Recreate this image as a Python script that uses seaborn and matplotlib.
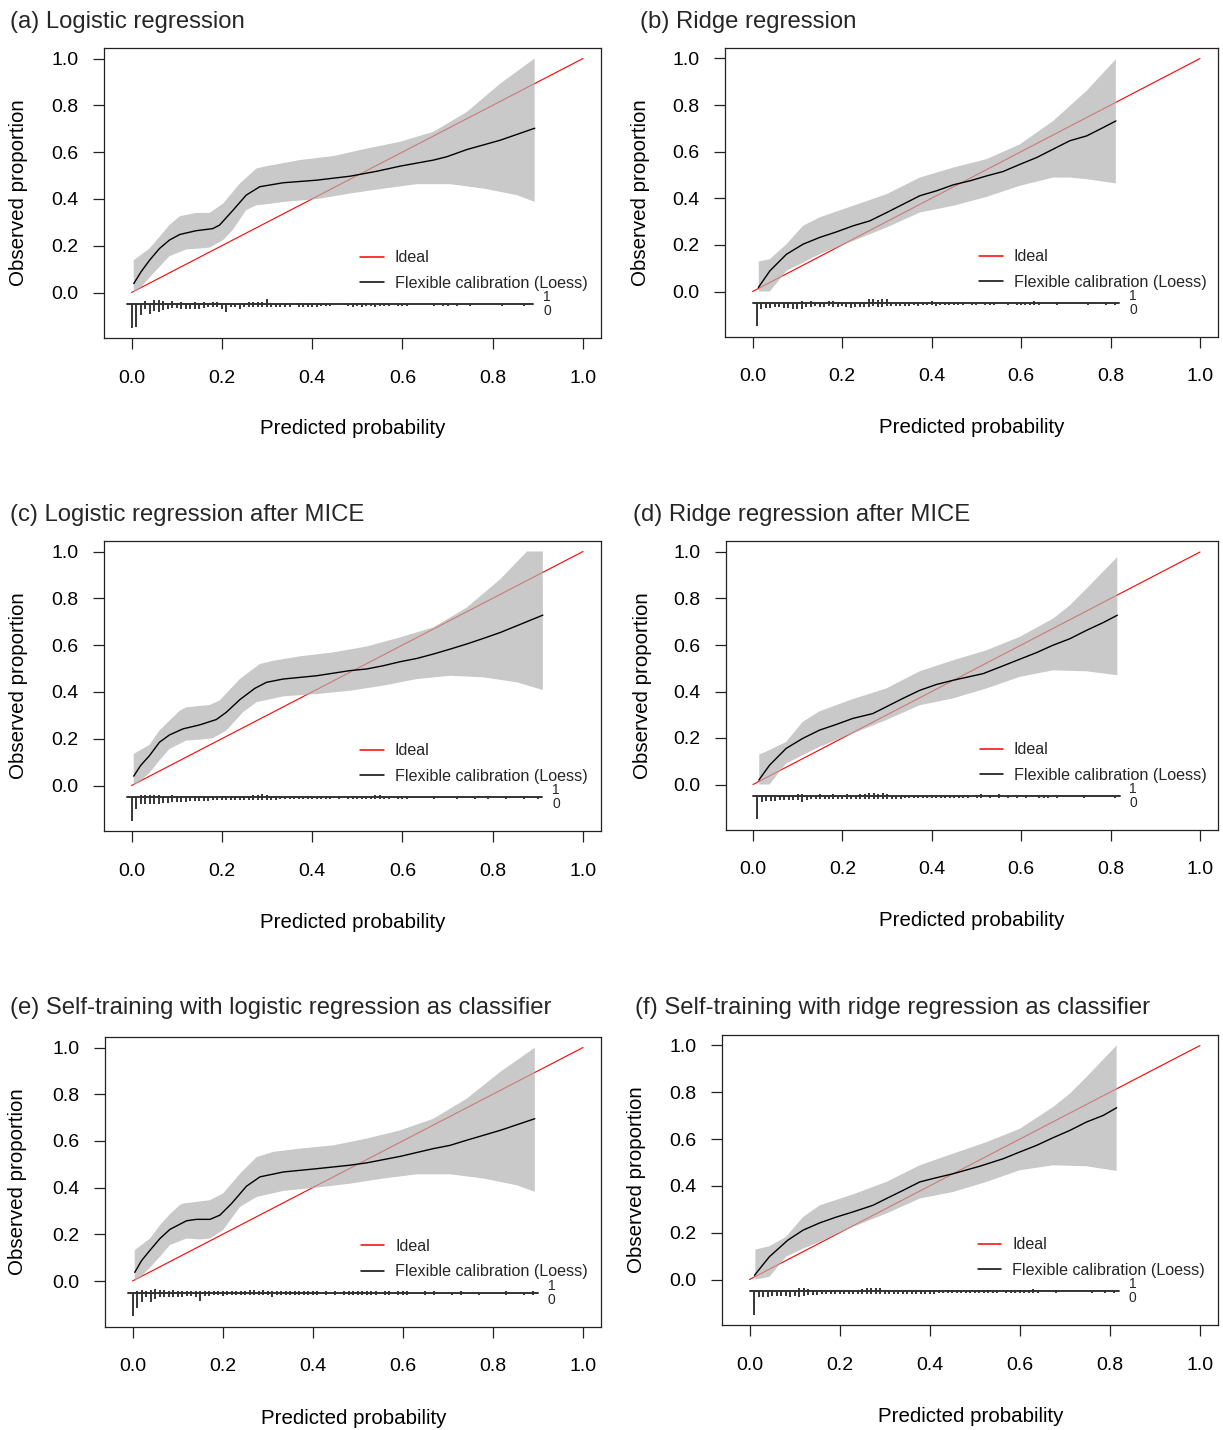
import numpy as np
import matplotlib
matplotlib.use("Agg")
import matplotlib.pyplot as plt
import seaborn as sns
from matplotlib.lines import Line2D

sns.set_theme(style="ticks")
plt.rcParams["font.family"] = ["Liberation Sans", "DejaVu Sans"]

# ---------------------------------------------------------------- data
titles = [
    "(a) Logistic regression",
    "(b) Ridge regression",
    "(c) Logistic regression after MICE",
    "(d) Ridge regression after MICE",
    "(e) Self-training with logistic regression as classifier",
    "(f) Self-training with ridge regression as classifier",
]
tick_values = [0.0, 0.2, 0.4, 0.6, 0.8, 1.0]
tick_labels = ["0.0", "0.2", "0.4", "0.6", "0.8", "1.0"]

# (a) logistic regression: loess fit and confidence band
a_fit_x = [0.005, 0.021, 0.04, 0.062, 0.084, 0.107, 0.143, 0.18, 0.195, 0.225, 0.254, 0.284, 0.336, 0.41, 0.484, 0.543, 0.595, 0.669, 0.698, 0.743, 0.817, 0.893]
a_fit_y = [0.038, 0.088, 0.138, 0.188, 0.224, 0.248, 0.264, 0.273, 0.288, 0.352, 0.416, 0.452, 0.469, 0.48, 0.497, 0.518, 0.54, 0.566, 0.58, 0.611, 0.651, 0.702]
a_hi_x = [0.005, 0.04, 0.062, 0.084, 0.107, 0.143, 0.173, 0.203, 0.24, 0.277, 0.299, 0.373, 0.447, 0.521, 0.595, 0.669, 0.743, 0.817, 0.893]
a_hi_y = [0.138, 0.188, 0.238, 0.288, 0.326, 0.34, 0.34, 0.38, 0.466, 0.53, 0.54, 0.566, 0.583, 0.615, 0.644, 0.687, 0.772, 0.893, 1.0]
a_lo_x = [0.005, 0.02, 0.04, 0.062, 0.084, 0.121, 0.151, 0.173, 0.203, 0.225, 0.254, 0.277, 0.299, 0.336, 0.41, 0.484, 0.558, 0.632, 0.706, 0.78, 0.854, 0.893]
a_lo_y = [0.0, 0.02, 0.064, 0.11, 0.155, 0.184, 0.188, 0.192, 0.224, 0.269, 0.352, 0.373, 0.377, 0.387, 0.399, 0.423, 0.444, 0.463, 0.463, 0.444, 0.416, 0.387]

# (b) ridge regression
b_fit_x = [0.013, 0.039, 0.076, 0.113, 0.15, 0.188, 0.225, 0.262, 0.3, 0.337, 0.374, 0.411, 0.449, 0.486, 0.523, 0.56, 0.598, 0.635, 0.672, 0.709, 0.747, 0.784, 0.812]
b_fit_y = [0.017, 0.089, 0.16, 0.203, 0.232, 0.256, 0.282, 0.303, 0.339, 0.375, 0.411, 0.432, 0.458, 0.475, 0.496, 0.515, 0.546, 0.575, 0.611, 0.647, 0.668, 0.704, 0.732]
b_hi_x = [0.014, 0.039, 0.076, 0.113, 0.15, 0.225, 0.3, 0.374, 0.449, 0.523, 0.598, 0.672, 0.747, 0.812]
b_hi_y = [0.129, 0.139, 0.203, 0.282, 0.318, 0.368, 0.418, 0.489, 0.532, 0.568, 0.632, 0.732, 0.862, 0.997]
b_lo_x = [0.014, 0.039, 0.076, 0.113, 0.15, 0.225, 0.3, 0.374, 0.449, 0.523, 0.598, 0.672, 0.709, 0.747, 0.812]
b_lo_y = [0.0, 0.0, 0.089, 0.124, 0.16, 0.217, 0.275, 0.339, 0.368, 0.406, 0.454, 0.489, 0.489, 0.482, 0.464]

# (c) logistic regression after MICE
c_fit_x = [0.005, 0.02, 0.04, 0.062, 0.084, 0.114, 0.151, 0.188, 0.21, 0.24, 0.273, 0.299, 0.336, 0.41, 0.484, 0.521, 0.558, 0.595, 0.632, 0.669, 0.706, 0.743, 0.78, 0.817, 0.854, 0.911]
c_fit_y = [0.04, 0.085, 0.128, 0.185, 0.216, 0.242, 0.259, 0.282, 0.313, 0.367, 0.415, 0.441, 0.455, 0.469, 0.491, 0.498, 0.512, 0.529, 0.543, 0.562, 0.583, 0.605, 0.629, 0.654, 0.683, 0.728]
c_hi_x = [0.005, 0.04, 0.062, 0.084, 0.107, 0.121, 0.173, 0.195, 0.24, 0.284, 0.314, 0.373, 0.447, 0.521, 0.595, 0.669, 0.743, 0.817, 0.876, 0.911]
c_hi_y = [0.135, 0.174, 0.235, 0.277, 0.32, 0.334, 0.344, 0.363, 0.455, 0.519, 0.533, 0.552, 0.569, 0.594, 0.633, 0.676, 0.761, 0.882, 1.0, 1.0]
c_lo_x = [0.005, 0.02, 0.04, 0.062, 0.084, 0.121, 0.151, 0.18, 0.21, 0.247, 0.277, 0.336, 0.41, 0.484, 0.558, 0.632, 0.706, 0.78, 0.854, 0.911]
c_lo_y = [0.0, 0.02, 0.054, 0.107, 0.156, 0.192, 0.196, 0.202, 0.235, 0.313, 0.356, 0.381, 0.391, 0.405, 0.427, 0.455, 0.469, 0.462, 0.441, 0.408]

# (d) ridge regression after MICE
d_fit_x = [0.013, 0.037, 0.074, 0.111, 0.149, 0.186, 0.223, 0.268, 0.298, 0.335, 0.373, 0.41, 0.447, 0.515, 0.559, 0.597, 0.634, 0.671, 0.709, 0.746, 0.783, 0.815]
d_fit_y = [0.019, 0.083, 0.155, 0.198, 0.234, 0.258, 0.284, 0.305, 0.334, 0.37, 0.405, 0.43, 0.448, 0.477, 0.51, 0.539, 0.567, 0.599, 0.627, 0.663, 0.696, 0.728]
d_hi_x = [0.014, 0.037, 0.074, 0.111, 0.149, 0.223, 0.298, 0.373, 0.447, 0.522, 0.597, 0.671, 0.709, 0.746, 0.815]
d_hi_y = [0.129, 0.148, 0.183, 0.269, 0.315, 0.367, 0.413, 0.487, 0.534, 0.577, 0.635, 0.713, 0.771, 0.842, 0.978]
d_lo_x = [0.014, 0.037, 0.074, 0.111, 0.149, 0.223, 0.298, 0.373, 0.447, 0.522, 0.597, 0.671, 0.746, 0.815]
d_lo_y = [0.0, 0.0, 0.09, 0.126, 0.162, 0.219, 0.277, 0.341, 0.37, 0.413, 0.463, 0.491, 0.487, 0.47]

# (e) self-training, logistic classifier
e_fit_x = [0.005, 0.02, 0.039, 0.061, 0.083, 0.12, 0.142, 0.172, 0.194, 0.22, 0.253, 0.283, 0.335, 0.409, 0.483, 0.52, 0.595, 0.668, 0.705, 0.742, 0.816, 0.893]
e_fit_y = [0.037, 0.087, 0.132, 0.182, 0.221, 0.258, 0.264, 0.264, 0.282, 0.332, 0.406, 0.446, 0.467, 0.481, 0.496, 0.506, 0.534, 0.567, 0.581, 0.603, 0.645, 0.695]
e_hi_x = [0.005, 0.039, 0.061, 0.083, 0.105, 0.113, 0.172, 0.201, 0.239, 0.276, 0.313, 0.372, 0.446, 0.52, 0.594, 0.668, 0.742, 0.816, 0.893]
e_hi_y = [0.132, 0.182, 0.239, 0.286, 0.325, 0.332, 0.346, 0.375, 0.46, 0.531, 0.553, 0.567, 0.581, 0.61, 0.645, 0.695, 0.781, 0.895, 0.999]
e_lo_x = [0.005, 0.02, 0.039, 0.061, 0.083, 0.12, 0.15, 0.172, 0.201, 0.239, 0.276, 0.335, 0.409, 0.483, 0.557, 0.631, 0.705, 0.779, 0.853, 0.893]
e_lo_y = [0.0, 0.02, 0.058, 0.104, 0.154, 0.182, 0.178, 0.182, 0.218, 0.318, 0.36, 0.386, 0.4, 0.417, 0.439, 0.457, 0.457, 0.439, 0.41, 0.382]

# (f) self-training, ridge classifier
f_fit_x = [0.011, 0.044, 0.085, 0.119, 0.156, 0.193, 0.23, 0.274, 0.304, 0.341, 0.378, 0.415, 0.452, 0.511, 0.563, 0.6, 0.637, 0.674, 0.711, 0.748, 0.785, 0.815]
f_fit_y = [0.018, 0.097, 0.168, 0.211, 0.242, 0.267, 0.289, 0.317, 0.346, 0.381, 0.417, 0.435, 0.452, 0.484, 0.516, 0.545, 0.573, 0.606, 0.637, 0.673, 0.701, 0.734]
f_hi_x = [0.013, 0.044, 0.081, 0.119, 0.156, 0.23, 0.304, 0.378, 0.452, 0.526, 0.6, 0.674, 0.711, 0.748, 0.815]
f_hi_y = [0.128, 0.142, 0.182, 0.267, 0.317, 0.364, 0.417, 0.488, 0.538, 0.587, 0.644, 0.737, 0.794, 0.865, 1.0]
f_lo_x = [0.013, 0.044, 0.081, 0.119, 0.156, 0.23, 0.304, 0.378, 0.452, 0.526, 0.6, 0.674, 0.748, 0.815]
f_lo_y = [0.0, 0.011, 0.097, 0.132, 0.161, 0.225, 0.282, 0.346, 0.374, 0.417, 0.467, 0.488, 0.484, 0.464]

# Spike histograms: counts per 0.01-wide bin of predicted risk,
# starting at bin index *_first; y == 0 drawn downward, y == 1 upward.
a_first = 0
a_zero = [100, 97, 47, 21, 44, 30, 33, 26, 19, 16, 16, 21, 19, 19, 19, 19, 16, 13, 13, 13,
          19, 33, 13, 10, 19, 13, 13, 10, 13, 10, 10, 10, 10, 10, 10, 10, 0, 10, 10, 10,
          10, 10, 9, 9, 9, 0, 0, 0, 9, 10, 9, 10, 9, 9, 10, 9, 9, 9, 0, 9,
          9, 9, 0, 0, 0, 0, 0, 9, 0, 9, 9, 0, 9, 0, 0, 9, 0, 0, 0, 0,
          0, 0, 9, 0, 0, 0, 0, 9, 0]
a_one = [0, 0, 0, 13, 7, 16, 16, 13, 7, 12, 7, 10, 7, 7, 9, 7, 10, 5, 10, 10,
         7, 6, 7, 7, 7, 7, 10, 10, 10, 10, 24, 6, 6, 6, 6, 6, 0, 6, 6, 6,
         6, 6, 0, 6, 0, 0, 0, 0, 6, 6, 6, 7, 6, 0, 6, 0, 6, 0, 0, 6,
         0, 0, 0, 0, 0, 0, 0, 6, 0, 7, 6, 0, 0, 6, 0, 6, 0, 0, 0, 0,
         0, 0, 0, 0, 0, 0, 0, 6, 6]

b_first = 1
b_zero = [100, 24, 20, 20, 18, 18, 20, 20, 24, 24, 24, 15, 15, 13, 15, 15, 13, 15, 15, 13,
          18, 20, 15, 15, 15, 15, 13, 15, 15, 13, 13, 13, 13, 12, 12, 10, 12, 10, 10, 10,
          12, 10, 10, 10, 9, 9, 9, 0, 9, 9, 0, 9, 9, 9, 0, 0, 9, 0, 9, 9,
          9, 9, 9, 9, 0, 0, 0, 9, 0, 0, 0, 0, 0, 0, 9, 0, 0, 0, 9, 0, 8]
b_one = [0, 0, 6, 0, 0, 6, 0, 6, 0, 6, 9, 0, 9, 0, 6, 6, 9, 9, 6, 7,
         6, 6, 7, 7, 7, 16, 16, 14, 16, 19, 7, 7, 6, 6, 7, 6, 7, 6, 7, 9,
         6, 7, 6, 6, 7, 6, 6, 0, 6, 6, 0, 6, 0, 6, 0, 0, 6, 0, 6, 0,
         6, 6, 9, 6, 0, 0, 0, 6, 0, 0, 0, 0, 0, 0, 6, 0, 0, 0, 6, 0, 0]

c_first = 0
c_zero = [100, 50, 30, 30, 30, 30, 30, 24, 24, 21, 21, 19, 19, 17, 17, 17, 15, 15, 14, 14,
          14, 13, 13, 12, 12, 12, 11, 11, 11, 10, 10, 10, 10, 9, 9, 9, 9, 9, 9, 9,
          9, 9, 9, 9, 8, 0, 8, 0, 8, 9, 8, 8, 8, 8, 8, 8, 8, 8, 0, 8,
          8, 8, 0, 0, 0, 0, 0, 8, 0, 0, 0, 0, 8, 0, 0, 0, 8, 0, 0, 8,
          0, 0, 0, 8, 0, 0, 0, 8, 0, 0, 8]
c_one = [0, 6, 8, 8, 10, 10, 11, 7, 7, 8, 7, 7, 6, 7, 6, 6, 7, 6, 6, 6,
         7, 6, 6, 6, 6, 7, 7, 8, 10, 15, 8, 6, 6, 6, 0, 6, 0, 6, 0, 6,
         6, 6, 6, 6, 6, 0, 6, 0, 6, 6, 6, 6, 6, 6, 10, 10, 6, 6, 0, 6,
         6, 6, 0, 0, 0, 0, 0, 6, 0, 0, 0, 0, 0, 0, 0, 0, 0, 0, 0, 0,
         0, 0, 0, 0, 0, 0, 0, 0, 0, 0, 6]

d_first = 1
d_zero = [100, 24, 20, 20, 20, 17, 17, 17, 17, 17, 27, 17, 14, 14, 14, 12, 14, 14, 14, 12,
          14, 14, 12, 12, 14, 12, 12, 12, 14, 12, 12, 12, 12, 10, 10, 10, 10, 10, 10, 9,
          9, 9, 9, 9, 9, 9, 9, 9, 0, 9, 9, 0, 9, 0, 9, 0, 9, 0, 9, 0,
          9, 0, 0, 9, 9, 9, 0, 9, 0, 0, 0, 0, 0, 9, 0, 0, 0, 0, 0, 0, 9]
d_one = [0, 0, 6, 6, 6, 6, 6, 6, 6, 7, 9, 6, 6, 6, 7, 6, 6, 7, 6, 6,
         7, 6, 6, 7, 9, 12, 12, 9, 12, 9, 6, 6, 6, 6, 6, 6, 6, 6, 6, 6,
         6, 6, 6, 6, 6, 6, 6, 6, 0, 6, 9, 0, 6, 0, 9, 0, 6, 0, 6, 0,
         6, 0, 0, 6, 6, 6, 0, 6, 0, 0, 0, 0, 0, 6, 0, 0, 0, 0, 0, 0, 0]

e_first = 0
e_zero = [100, 67, 39, 20, 39, 27, 20, 20, 17, 17, 17, 20, 14, 14, 17, 36, 14, 14, 12, 12,
          14, 12, 12, 12, 12, 12, 12, 12, 11, 11, 11, 17, 10, 10, 10, 10, 10, 9, 9, 9,
          9, 9, 0, 9, 0, 9, 0, 9, 9, 9, 8, 8, 8, 8, 8, 0, 8, 8, 0, 8,
          8, 8, 0, 0, 0, 8, 0, 8, 0, 0, 0, 8, 0, 8, 0, 0, 0, 8, 0, 0,
          0, 0, 0, 8, 0, 0, 0, 8, 0, 8]
e_one = [0, 8, 10, 8, 10, 15, 11, 10, 8, 10, 8, 8, 7, 8, 7, 7, 8, 7, 6, 6,
         7, 6, 6, 7, 7, 8, 10, 10, 8, 11, 8, 7, 6, 6, 6, 6, 6, 6, 6, 6,
         6, 6, 0, 6, 0, 6, 0, 6, 6, 6, 6, 6, 6, 6, 6, 0, 6, 6, 0, 6,
         6, 8, 0, 0, 0, 6, 0, 6, 0, 0, 0, 0, 0, 6, 0, 0, 0, 0, 0, 0,
         0, 0, 0, 6, 0, 0, 0, 0, 0, 6]

f_first = 1
f_zero = [100, 24, 24, 24, 22, 22, 20, 20, 24, 22, 24, 20, 17, 17, 17, 14, 14, 14, 14, 14,
          14, 14, 12, 12, 14, 12, 12, 12, 12, 12, 14, 12, 12, 12, 10, 10, 10, 10, 10, 10,
          10, 9, 9, 9, 9, 9, 9, 9, 9, 9, 9, 9, 9, 9, 9, 0, 9, 9, 9, 9,
          9, 9, 9, 9, 0, 0, 0, 9, 0, 0, 0, 0, 0, 0, 0, 9, 0, 0, 9, 0, 9]
f_one = [0, 0, 6, 6, 6, 6, 6, 6, 6, 6, 15, 15, 8, 6, 6, 6, 6, 6, 7, 6,
         6, 6, 7, 7, 8, 15, 15, 13, 15, 7, 7, 6, 6, 6, 7, 7, 6, 6, 6, 7,
         6, 6, 6, 6, 6, 6, 6, 6, 6, 6, 6, 6, 6, 6, 6, 0, 6, 6, 6, 6,
         6, 6, 10, 6, 0, 0, 0, 6, 0, 0, 0, 0, 0, 0, 0, 6, 0, 0, 6, 0, 0]

panels = [
    (a_fit_x, a_fit_y, a_hi_x, a_hi_y, a_lo_x, a_lo_y, a_first, a_zero, a_one),
    (b_fit_x, b_fit_y, b_hi_x, b_hi_y, b_lo_x, b_lo_y, b_first, b_zero, b_one),
    (c_fit_x, c_fit_y, c_hi_x, c_hi_y, c_lo_x, c_lo_y, c_first, c_zero, c_one),
    (d_fit_x, d_fit_y, d_hi_x, d_hi_y, d_lo_x, d_lo_y, d_first, d_zero, d_one),
    (e_fit_x, e_fit_y, e_hi_x, e_hi_y, e_lo_x, e_lo_y, e_first, e_zero, e_one),
    (f_fit_x, f_fit_y, f_hi_x, f_hi_y, f_lo_x, f_lo_y, f_first, f_zero, f_one),
]

# ---------------------------------------------------------------- layout
W, H = 1223, 1430
XLIM = (-0.0608, 1.0408)
YLIM = (-0.196, 1.046)
# pixel positions of the 0 and 1 gridlines for each panel: (x0, x1, y0, y1)
frames = [
    (131.5, 583.0, 292.5, 58.5),
    (752.5, 1200.0, 291.5, 58.5),
    (131.5, 583.0, 785.5, 551.5),
    (753.0, 1200.0, 784.5, 552.0),
    (132.5, 583.0, 1281.0, 1047.5),
    (749.5, 1200.0, 1279.5, 1045.5),
]
title_pos = [(10, 22), (640, 22), (10, 515), (633, 515), (10, 1008), (635, 1008)]
xlabel_y = [429, 427, 922, 920, 1418, 1416]
ylabel_x = [18, 641, 18, 642, 18, 636]

BAND = (177 / 255, 177 / 255, 177 / 255, 177 / 255)
LINE_BINS = -0.05

fig = plt.figure(figsize=(W / 100, H / 100), dpi=100)
fig.patch.set_facecolor("white")

for i, (fx, fy, hx, hy, lx, ly, first, zero, one) in enumerate(panels):
    x0, x1, y0, y1 = frames[i]
    sx, sy = x1 - x0, y0 - y1
    left = x0 + XLIM[0] * sx
    right = x0 + XLIM[1] * sx
    top = y0 - YLIM[1] * sy
    bottom = y0 - YLIM[0] * sy
    ax = fig.add_axes([left / W, 1 - bottom / H, (right - left) / W, (bottom - top) / H])
    ax.set_facecolor("white")
    ax.set_xlim(*XLIM)
    ax.set_ylim(*YLIM)

    # ideal diagonal
    ax.plot([0, 1], [0, 1], color="red", lw=0.8, zorder=2)
    # confidence band
    ax.fill(np.r_[hx, lx[::-1]], np.r_[hy, ly[::-1]], color=BAND, lw=0, zorder=3)
    # loess calibration curve
    sns.lineplot(x=fx, y=fy, ax=ax, color="black", lw=1.0, errorbar=None, zorder=4)

    # spike histogram
    zero = np.asarray(zero, float)
    one = np.asarray(one, float)
    bins = (first + np.arange(len(zero))) / 100.0
    scale = 0.1 / max(zero.max(), one.max())
    m0, m1 = zero > 0, one > 0
    ax.vlines(bins[m0], LINE_BINS - zero[m0] * scale, LINE_BINS, color="black", lw=1.1, zorder=4)
    ax.vlines(bins[m1], LINE_BINS, LINE_BINS + one[m1] * scale, color="black", lw=1.1, zorder=4)
    used = bins[m0 | m1]
    lo_b, hi_b = used.min(), used.max()
    ax.plot([lo_b - 0.01, hi_b + 0.01], [LINE_BINS, LINE_BINS], color="#333333", lw=1.4, zorder=4)
    ax.text(hi_b + 0.04, LINE_BINS + 0.03, "1", fontsize=10, ha="center", va="center")
    ax.text(hi_b + 0.04, LINE_BINS - 0.03, "0", fontsize=10, ha="center", va="center")

    # legend
    handles = [Line2D([], [], color="red", lw=1.1), Line2D([], [], color="black", lw=1.1)]
    ax.legend(handles, ["Ideal", "Flexible calibration (Loess)"], loc="center left",
              bbox_to_anchor=(0.507, 0.094), bbox_transform=ax.transData,
              frameon=False, fontsize=11.6, handlelength=1.45, handletextpad=0.68,
              labelspacing=0.64, borderpad=0, borderaxespad=0)

    # axes styling
    ax.set_xticks(tick_values)
    ax.set_xticklabels(tick_labels)
    ax.set_yticks(tick_values)
    ax.set_yticklabels(tick_labels)
    ax.tick_params(axis="both", direction="out", length=8, width=0.9, color="#222222",
                   labelsize=14, labelcolor="black")
    ax.tick_params(axis="x", pad=14.5)
    ax.tick_params(axis="y", pad=10.5)
    for sp in ax.spines.values():
        sp.set_visible(True)
        sp.set_color("#222222")
        sp.set_linewidth(0.9)
    ax.set_xlabel("Predicted probability", fontsize=14.8, color="black")
    ax.set_ylabel("Observed proportion", fontsize=14.8, color="black")
    ax.xaxis.label.set_va("center")
    ax.yaxis.label.set_va("center")
    ax.xaxis.set_label_coords(0.5, (bottom - xlabel_y[i]) / (bottom - top))
    ax.yaxis.set_label_coords((ylabel_x[i] - left) / (right - left), 0.5)
    ax.grid(False)

    tx, ty = title_pos[i]
    fig.text(tx / W, 1 - ty / H, titles[i], fontsize=17.2, ha="left", va="center")

fig.savefig("out.png", dpi=100)
